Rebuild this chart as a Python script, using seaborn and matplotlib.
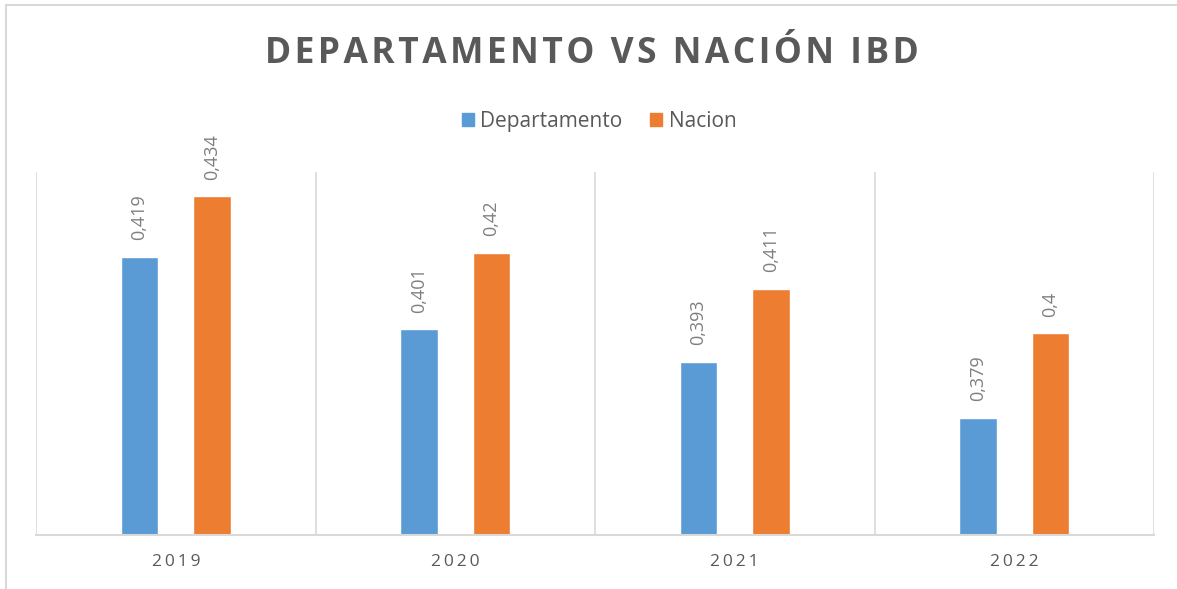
import matplotlib
matplotlib.use("Agg")
import matplotlib.pyplot as plt
import matplotlib.lines as mlines
import pandas as pd
import seaborn as sns

sns.set_style("white")
plt.rcParams['font.family'] = ['Open Sans', 'DejaVu Sans']

# data
years = ["2019", "2020", "2021", "2022"]
departamento = [0.419, 0.401, 0.393, 0.379]
nacion = [0.434, 0.42, 0.411, 0.4]
series = ["Departamento", "Nacion"]
colors = ["#5B9BD5", "#ED7D31"]

df = pd.DataFrame({
    "anio": years * 2,
    "valor": departamento + nacion,
    "serie": [series[0]] * 4 + [series[1]] * 4,
})

fig = plt.figure(figsize=(11.77, 5.89), dpi=100)
ax = fig.add_axes([36 / 1177, 54 / 589, 1118 / 1177, 363 / 589])

sns.barplot(data=df, x="anio", y="valor", hue="serie", palette=colors,
            width=0.52, gap=0.48, ax=ax, legend=False, saturation=1)

ax.set_ylim(0.35, 0.44)
ax.set_xlim(-0.5, 3.5)

# data labels
for cont in ax.containers:
    labs = [f"{b.get_height():g}".replace(".", ",") for b in cont]
    ax.bar_label(cont, labels=labs, rotation=90, padding=12,
                 color="#7f7f7f", fontsize=13)

# vertical separators
for x in [-0.5, 0.5, 1.5, 2.5, 3.5]:
    ax.axvline(x, color="#d9d9d9", lw=1.2, zorder=0)

for s in ["top", "left", "right"]:
    ax.spines[s].set_visible(False)
ax.spines["bottom"].set_color("#d9d9d9")
ax.spines["bottom"].set_linewidth(1.5)

ax.set_yticks([])
ax.set_xticks(range(len(years)))
ax.set_xticklabels(["\u2009".join(y) for y in years], color="#595959",
                   fontsize=12.5)
ax.tick_params(axis="x", length=0, pad=14)
ax.set_xlabel("")
ax.set_ylabel("")

fig.text(592 / 1177, 1 - 54 / 589, "\u200a".join("DEPARTAMENTO VS NACIÓN IBD"),
         ha="center", va="center", fontsize=25.5, fontweight="bold",
         color="#595959")

handles = [plt.Rectangle((0, 0), 1, 1, color=c) for c in colors]
fig.legend(handles, series, loc="center",
           bbox_to_anchor=(599 / 1177, 1 - 121 / 589),
           ncol=2, frameon=False, fontsize=15, labelcolor="#595959",
           handlelength=0.6, handleheight=0.6, handletextpad=0.3,
           columnspacing=1.3)

# outer frame
fig.add_artist(mlines.Line2D([6 / 1177, 1], [1 - 5 / 589] * 2,
                             color="#d9d9d9", lw=1.5))
fig.add_artist(mlines.Line2D([6 / 1177] * 2, [0, 1 - 5 / 589],
                             color="#d9d9d9", lw=1.5))

fig.savefig("out.png", dpi=100)
